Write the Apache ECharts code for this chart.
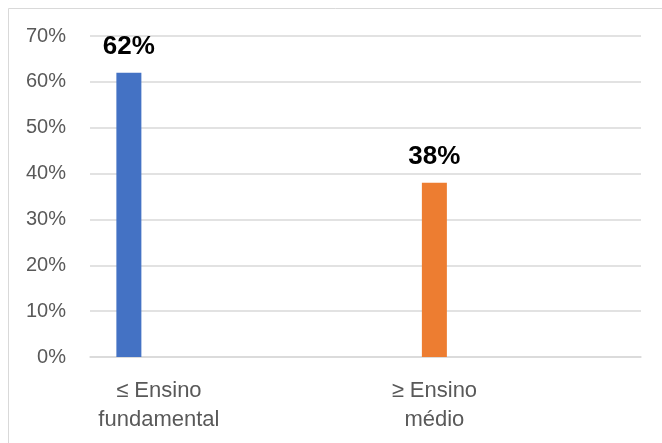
<!DOCTYPE html>
<html>
<head>
<meta charset="utf-8">
<script src="https://cdn.jsdelivr.net/npm/echarts@6/dist/echarts.min.js"></script>
<style>
  html, body { margin: 0; padding: 0; background: #fff; }
  #chart { width: 662px; height: 443px; }
</style>
</head>
<body>
<div id="chart"></div>
<script>
// Education level categories (blank slots keep the column spacing)
const categories = ['≤ Ensino\nfundamental', '', '≥ Ensino\nmédio', ''];
// Share per education level, in percent
const fundamentalValues = [62, null, null, null];
const medioValues = [null, null, 38, null];
const spareValues = [null, null, null, null];
// Y-axis range and step (percent)
const yMin = 0, yMax = 70, yStep = 10;

const chart = echarts.init(document.getElementById('chart'), null, { renderer: 'canvas' });

const labelStyle = {
  show: true,
  position: 'top',
  distance: 13,
  formatter: p => p.value + '%',
  color: '#000',
  fontFamily: 'Liberation Sans',
  fontWeight: 'bold',
  fontSize: 26
};

chart.setOption({
  animation: false,
  backgroundColor: '#fff',
  graphic: [{
    type: 'rect',
    shape: { x: 8.5, y: 8.5, width: 700, height: 500 },
    style: { fill: 'none', stroke: '#d9d9d9', lineWidth: 1 },
    silent: true
  }],
  grid: { left: 90, right: 21, top: 36, bottom: 86 },
  xAxis: {
    type: 'category',
    data: categories,
    boundaryGap: true,
    axisLine: { show: true, lineStyle: { color: '#d9d9d9', width: 1.5 } },
    axisTick: { show: false },
    axisLabel: {
      interval: 0,
      color: '#595959',
      fontFamily: 'Liberation Sans',
      fontSize: 22,
      lineHeight: 29,
      margin: 19
    }
  },
  yAxis: {
    type: 'value',
    min: yMin,
    max: yMax,
    interval: yStep,
    axisLine: { show: false },
    axisTick: { show: false },
    splitLine: { lineStyle: { color: '#d9d9d9', width: 1.5 } },
    axisLabel: {
      formatter: v => v + '%',
      color: '#595959',
      fontFamily: 'Liberation Sans',
      fontSize: 20,
      margin: 24
    }
  },
  series: [
    {
      type: 'bar',
      data: fundamentalValues,
      barWidth: 25,
      barGap: '20%',
      itemStyle: { color: '#4472c4' },
      label: labelStyle
    },
    {
      type: 'bar',
      data: medioValues,
      barWidth: 25,
      barGap: '20%',
      itemStyle: { color: '#ed7d31' },
      label: labelStyle
    },
    {
      type: 'bar',
      data: spareValues,
      barWidth: 25,
      barGap: '20%',
      itemStyle: { color: '#a5a5a5' }
    }
  ]
});
</script>
</body>
</html>
